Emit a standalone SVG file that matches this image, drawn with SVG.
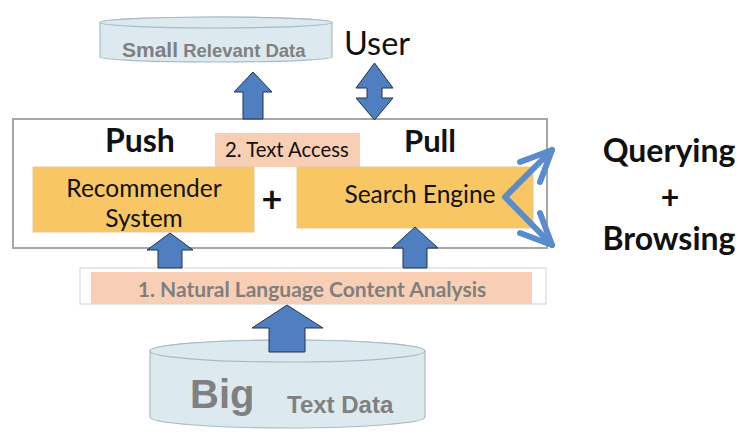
<svg xmlns="http://www.w3.org/2000/svg" width="753" height="440" viewBox="0 0 753 440">
<defs>
<style>
.cyl{fill:#DCE9EE;stroke:#A9BCC4;stroke-width:1.2}
.blk{fill:#4F7FC0;stroke:#22324F;stroke-width:1}
.orange{fill:#F8C662;stroke:#E2C9A0;stroke-width:1}
.peach{fill:#F8CFB4}
.cal{font-family:Lato,"Open Sans","Noto Sans",sans-serif;fill:#111}
.gray{font-family:"Liberation Sans",Arial,sans-serif;font-weight:bold;fill:#808080}
.qa{stroke:#5A8BCB;stroke-width:6;fill:none;stroke-linecap:round;stroke-linejoin:round}
</style>
</defs>
<rect width="753" height="440" fill="#ffffff"/>

<g id="small-data">
<path class="cyl" d="M100,22.5 L100,57 A116,5 0 0 0 332,57 L332,22.5 A116,5.5 0 0 0 100,22.5 Z"/>
<ellipse class="cyl" cx="216" cy="22.5" rx="116" ry="5.5"/>
<text class="gray" x="122" y="57"><tspan font-size="21">Small</tspan><tspan font-size="18.5"> Relevant Data</tspan></text>
</g>

<g id="user">
<text class="cal" x="344" y="55" font-size="32.5">User</text>
</g>

<g id="text-access">
<rect x="13" y="119" width="534" height="129" fill="#ffffff" stroke="#A6A6A6" stroke-width="2"/>
<text class="cal" x="105" y="152" font-size="32" font-weight="bold">Push</text>
<text class="cal" x="404" y="152" font-size="31" font-weight="bold">Pull</text>
<rect class="peach" x="215" y="133" width="145" height="34"/>
<text class="cal" x="225" y="157" font-size="20.3" fill="#222">2. Text Access</text>
<text class="cal" x="272" y="212" font-size="36" font-weight="bold" text-anchor="middle">+</text>
</g>

<g id="recommender">
<rect class="orange" x="33" y="167" width="221" height="65"/>
<text class="cal" x="144" y="197" font-size="24.5" text-anchor="middle">Recommender</text>
<text class="cal" x="144" y="227" font-size="24.5" text-anchor="middle">System</text>
</g>

<g id="search-engine">
<rect class="orange" x="297" y="167" width="236" height="61"/>
<text class="cal" x="420" y="203" font-size="24.5" text-anchor="middle">Search Engine</text>
</g>

<g id="nlp">
<rect x="80" y="268" width="466" height="36" fill="#ffffff" stroke="#D0D0D0" stroke-width="1"/>
<rect class="peach" x="91" y="272" width="441" height="32"/>
<text x="312" y="297" font-size="21" font-weight="bold" text-anchor="middle" font-family="Lato,'Open Sans',sans-serif" fill="#7F7F7F">1. Natural Language Content Analysis</text>
</g>

<g id="big-data">
<path class="cyl" d="M150,351 L150,417 A137.5,11 0 0 0 425,417 L425,351 A137.5,11 0 0 0 150,351 Z"/>
<ellipse class="cyl" cx="287.5" cy="351" rx="137.5" ry="11"/>
<text class="gray" x="190" y="408" font-size="40">Big</text>
<text class="gray" x="287" y="413" font-size="24">Text Data</text>
</g>

<g id="querying-browsing">
<text class="cal" x="669" y="162" font-size="32" font-weight="bold" text-anchor="middle">Querying</text>
<text class="cal" x="670" y="209" font-size="32" font-weight="bold" text-anchor="middle">+</text>
<text class="cal" x="669" y="250" font-size="32" font-weight="bold" text-anchor="middle">Browsing</text>
</g>

<g id="connectors">
<polygon class="blk" points="253,72 272,92 263,92 263,119 243,119 243,92 234,92"/>
<polygon class="blk" points="374.5,63 393,88 382,88 382,98 393,98 374.5,120 356,98 367,98 367,88 356,88"/>
<polygon class="blk" points="170,233 193,250 182,250 182,268 158,268 158,250 147,250"/>
<polygon class="blk" points="415,227 438,248 427,248 427,268 403,268 403,248 392,248"/>
<polygon class="blk" points="287,305 323,328 305,328 305,352 269,352 269,328 252,328"/>
<polyline class="qa" points="552,150 505,197 552,245"/>
<polyline class="qa" points="520,162 552,150 540,182"/>
<polyline class="qa" points="520,233 552,245 540,213"/>
</g>
</svg>
